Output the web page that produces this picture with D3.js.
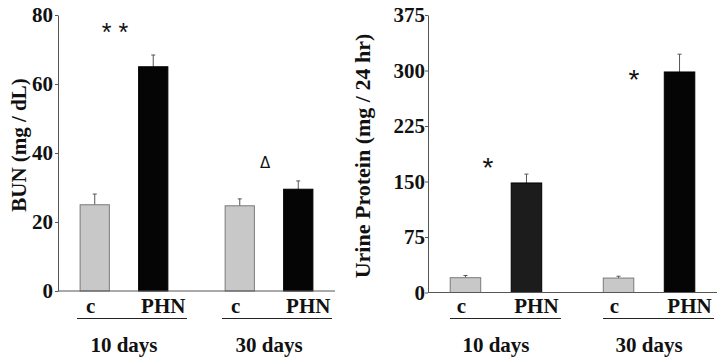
<!DOCTYPE html>
<html><head><meta charset="utf-8">
<script src="https://cdn.jsdelivr.net/npm/d3@7"></script>
<style>body{margin:0;background:#fff}svg{display:block}</style>
</head><body>
<svg id="c" width="720" height="362"></svg>
<script>
const groups = ["10 days", "30 days"];
const treatments = ["c", "PHN"];
// BUN (mg/dL)
const bunMean = [25, 65, 24.7, 29.5];
const bunErr  = [3.1, 3.4, 2.0, 2.4];
const bunTicks = [0, 20, 40, 60, 80];
// Urine protein (mg/24 hr)
const upMean = [20, 148, 19.5, 298];
const upErr  = [3, 12, 2.5, 24];
const upTicks = [0, 75, 150, 225, 300, 375];
const bunMarks = [{group: "10 days", text: "* *", value: 75}, {group: "30 days", text: "Δ", value: 37}];
const upMarks = [{group: "10 days", text: "*", value: 169}, {group: "30 days", text: "*", value: 288}];

const svg = d3.select("#c");
const FONT = "'Liberation Serif','Times New Roman',serif";

function panel(cfg) {
  const g = svg.append("g");
  const y = d3.scaleLinear().domain([0, cfg.max]).range([cfg.y0, cfg.y1]);
  const gx = d3.scalePoint().domain(groups).range([cfg.x0, cfg.x1]).padding(cfg.pad);
  const ix = d3.scaleBand().domain(treatments).range([-cfg.half, cfg.half]).paddingInner(0.5).paddingOuter(0.25);
  const rows = [];
  groups.forEach((gr, gi) => treatments.forEach((t, ti) => rows.push({gr, t, v: cfg.mean[gi*2+ti], e: cfg.err[gi*2+ti]})));
  const bx = d => gx(d.gr) + ix(d.t);
  const bw = ix.bandwidth();
  // error bars
  rows.forEach(d => {
    const cx = bx(d) + bw/2;
    g.append("line").attr("x1", cx).attr("x2", cx).attr("y1", y(d.v)).attr("y2", y(d.v + d.e))
      .attr("stroke", "#555").attr("stroke-width", 1);
    g.append("line").attr("x1", cx-2).attr("x2", cx+2).attr("y1", y(d.v + d.e)).attr("y2", y(d.v + d.e))
      .attr("stroke", "#555").attr("stroke-width", 1);
  });
  g.selectAll("rect.bar").data(rows).join("rect").attr("class", "bar")
    .attr("x", bx).attr("width", bw)
    .attr("y", d => y(d.v)).attr("height", d => y(0) - y(d.v))
    .attr("fill", d => d.t === "c" ? "#c8c8c8" : (cfg.darkFirst && d.gr === "10 days" ? "#1c1c1c" : "#050505"))
    .attr("stroke", d => d.t === "c" ? "#7a7a7a" : "#000").attr("stroke-width", 1);
  // y axis
  const ax = g.append("g").attr("transform", `translate(${cfg.x0},0)`)
    .call(d3.axisLeft(y).tickValues(cfg.ticks).tickSize(3).tickPadding(cfg.tpad).tickSizeOuter(0));
  ax.select(".domain").attr("stroke", "#555");
  ax.selectAll(".tick line").attr("stroke", "#555");
  ax.selectAll("text").attr("font-family", FONT).attr("font-weight", "bold").attr("font-size", 21).attr("fill", "#111");
  // x axis line
  g.append("line").attr("x1", cfg.x0).attr("x2", cfg.x1).attr("y1", y(0)).attr("y2", y(0)).attr("stroke", "#555");
  // category labels
  rows.forEach(d => {
    g.append("text").attr("x", bx(d) + bw/2 + (d.t === "c" ? -4 : 10)).attr("y", 313)
      .attr("text-anchor", "middle").attr("font-family", FONT).attr("font-weight", "bold")
      .attr("font-size", 21).attr("fill", "#111").text(d.t);
  });
  groups.forEach(gr => {
    g.append("line").attr("x1", gx(gr) + cfg.ulL).attr("x2", gx(gr) + cfg.ulR).attr("y1", 318.5).attr("y2", 318.5)
      .attr("stroke", "#222").attr("stroke-width", 1);
    g.append("text").attr("x", gx(gr)).attr("y", 352).attr("text-anchor", "middle")
      .attr("font-family", FONT).attr("font-weight", "bold").attr("font-size", 21).attr("fill", "#111").text(gr);
  });
  // y title
  g.append("text").attr("transform", `translate(${cfg.tx},${cfg.ty}) rotate(-90)`)
    .attr("text-anchor", "middle").attr("font-family", FONT).attr("font-weight", "bold")
    .attr("font-size", cfg.tsize).attr("fill", "#111").text(cfg.title);
  // significance marks
  cfg.marks.forEach((m, i) => {
    g.append("text").attr("x", gx(m.group) + cfg.markDx[i]).attr("y", y(m.value))
      .attr("text-anchor", "middle").attr("dominant-baseline", "central")
      .attr("font-family", m.text === "Δ" ? "'DejaVu Sans',sans-serif" : "'Liberation Sans',sans-serif")
      .attr("font-size", m.text === "Δ" ? 15 : cfg.starSize).attr("fill", "#111").text(m.text);
  });
}

panel({x0: 58, x1: 335, y0: 291, y1: 15, max: 80, pad: 0.455, half: 58.5, mean: bunMean, err: bunErr,
  ticks: bunTicks, tpad: 2, ulL: -47, ulR: 63, tx: 26, ty: 145, tsize: 21, title: "BUN (mg / dL)",
  marks: bunMarks, markDx: [-9, -4], darkFirst: false, starSize: 25});
panel({x0: 428, x1: 717, y0: 292.5, y1: 15, max: 375, pad: 0.444, half: 61, mean: upMean, err: upErr,
  ticks: upTicks, tpad: 0, ulL: -46, ulR: 65, tx: 370, ty: 156, tsize: 22, title: "Urine Protein (mg / 24 hr)",
  marks: upMarks, markDx: [-8, -15], darkFirst: true, starSize: 28});
</script>
</body></html>
